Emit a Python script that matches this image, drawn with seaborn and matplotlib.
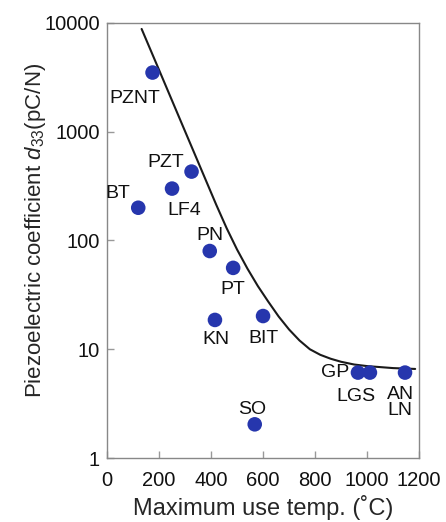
import matplotlib
matplotlib.use("Agg")
import matplotlib.pyplot as plt
import seaborn as sns
import pandas as pd
from matplotlib.ticker import FixedLocator, FuncFormatter, NullLocator

# ---- data ----
materials = ["PZNT", "PZT", "LF4", "BT", "PN", "PT", "KN", "BIT", "SO", "GP", "LGS", "AN\nLN"]
max_temp = [175, 325, 250, 120, 395, 485, 415, 600, 568, 965, 1011, 1146]
d33 = [3500, 430, 300, 200, 80, 56, 18.6, 20.2, 2.04, 6.1, 6.1, 6.1]

curve_temp = [133, 200, 300, 420, 460, 500, 540, 580, 620, 660, 700, 740,
              780, 820, 860, 900, 950, 1000, 1100, 1185]
curve_d33 = [8810, 3700, 1010, 213, 129.7, 82.6, 55.1, 38.1, 27.4, 20.0, 15.2,
             12.05, 10.0, 8.89, 8.18, 7.67, 7.24, 7.0, 6.71, 6.59]

x_ticks = [0, 200, 400, 600, 800, 1000, 1200]
y_ticks = [1, 10, 100, 1000, 10000]

# label offsets in pixels (layout only)
label_offsets = {
    "PZNT": (-18, -26), "PZT": (-26, 9), "BT": (-20, 14), "LF4": (12, -22),
    "PN": (0, 16), "PT": (0, -22), "KN": (1, -20), "BIT": (0, -22),
    "SO": (-3, 15), "GP": (-23, 0), "LGS": (-14, -24), "AN\nLN": (-5, -30),
}

sns.set_style("ticks")
plt.rcParams["font.family"] = ["Liberation Sans", "DejaVu Sans"]
plt.rcParams["mathtext.fontset"] = "custom"
plt.rcParams["mathtext.rm"] = "Liberation Sans"
plt.rcParams["mathtext.it"] = "Liberation Sans:italic"

points = pd.DataFrame({"material": materials, "temp": max_temp, "d33": d33})
curve = pd.DataFrame({"temp": curve_temp, "d33": curve_d33})

fig = plt.figure(figsize=(4.46, 5.22), dpi=100)
ax = fig.add_axes([0.240, 0.1226, 0.6996, 0.8334])

sns.lineplot(data=curve, x="temp", y="d33", ax=ax, color="#1a1a1a",
             linewidth=1.5, sort=False, estimator=None)
sns.scatterplot(data=points, x="temp", y="d33", ax=ax, color="#2636ad",
                s=110, edgecolor="none", zorder=3)

for name, t, d in zip(materials, max_temp, d33):
    dx, dy = label_offsets[name]
    ax.annotate(name, (t, d), xytext=(dx, dy), textcoords="offset pixels",
                ha="center", va="center", fontsize=14, color="#111111",
                linespacing=0.95)

ax.set_yscale("log")
ax.set_xlim(0, 1200)
ax.set_ylim(1, 10000)
ax.xaxis.set_major_locator(FixedLocator(x_ticks))
ax.yaxis.set_major_locator(FixedLocator(y_ticks))
ax.yaxis.set_minor_locator(NullLocator())
ax.xaxis.set_minor_locator(NullLocator())
ax.yaxis.set_major_formatter(FuncFormatter(lambda v, p: f"{int(round(v))}"))

ax.tick_params(axis="both", direction="in", length=5, width=1, color="#999999",
               labelsize=14.5, labelcolor="#111111")
ax.tick_params(axis="x", pad=9)
ax.tick_params(axis="y", pad=5)
for s in ax.spines.values():
    s.set_visible(True)
    s.set_color("#888888")
    s.set_linewidth(1.0)

ax.set_xlabel("Maximum use temp. (˚C)", fontsize=17, labelpad=4)
ax.set_ylabel(r"Piezoelectric coefficient $d_{33}$(pC/N)", fontsize=16)
ax.yaxis.set_label_coords(-0.19, 0.522)
if ax.get_legend() is not None:
    ax.get_legend().remove()

fig.savefig("out.png", dpi=100)
